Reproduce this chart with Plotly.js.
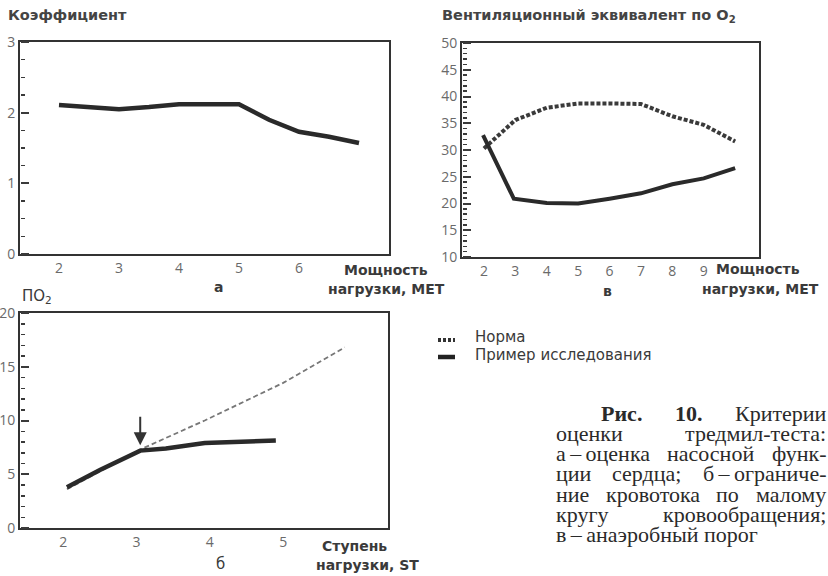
<!DOCTYPE html>
<html>
<head>
<meta charset="utf-8">
<script src="https://cdn.plot.ly/plotly-3.0.1.min.js"></script>
<style>html,body{margin:0;padding:0;background:#fff;}#chart{width:828px;height:576px;}</style>
</head>
<body>
<div id="chart"></div>
<script>
// Panel а — коэффициент
const aX = [2, 2.5, 3, 3.5, 4, 4.5, 5, 5.5, 6, 6.5, 7];
const aY = [2.11, 2.08, 2.05, 2.08, 2.12, 2.12, 2.12, 1.9, 1.73, 1.66, 1.57];
const aTicks = [2, 3, 4, 5, 6];

// Panel в — вентиляционный эквивалент по O2
const vX = [2, 3, 4, 5, 6, 7, 8, 9, 10];
const vNorm = [30.3, 35.6, 37.9, 38.7, 38.7, 38.6, 36.3, 34.7, 31.6];
const vStudyX = [1.97, 2.95, 4, 5, 6, 7, 8, 9, 10];
const vStudy = [32.8, 20.9, 20.1, 20.0, 20.9, 21.9, 23.6, 24.7, 26.6];
const vTicks = [2, 3, 4, 5, 6, 7, 8, 9];

// Panel б — ПО2
const bStudyX = [2.05, 2.5, 3.05, 3.4, 3.93, 4.3, 4.9];
const bStudy = [3.8, 5.4, 7.2, 7.4, 7.9, 8.0, 8.15];
const bNormX = [2.05, 3.05, 3.93, 5, 5.84];
const bNorm = [3.6, 7.3, 10.0, 13.5, 16.8];
const bTicks = [2, 3, 4, 5];
const bArrowX = 3.05, bArrowY = 7.7;

// Caption words (per printed line)
const captionLines = [
  ['Рис.', '10.', 'Критерии'],
  ['оценки', 'тредмил-теста:'],
  ['а\u2009–\u2009оценка', 'насосной', 'функ-'],
  ['ции', 'сердца;', 'б\u2009–\u2009ограниче-'],
  ['ние', 'кровотока', 'по', 'малому'],
  ['кругу', 'кровообращения;'],
  ['в\u2009–\u2009анаэробный', 'порог']
];

const W = 828, H = 576;
const px = x => x / W;
const py = y => 1 - y / H;

const dark = '#2a2a2a';
const sans = 'DejaVu Sans, sans-serif';

const traces = [
  {x: aX, y: aY, xaxis: 'x', yaxis: 'y', mode: 'lines', line: {color: dark, width: 4.5}},
  {x: vX, y: vNorm, xaxis: 'x2', yaxis: 'y2', mode: 'lines', line: {color: '#3a3a3a', width: 4, dash: '4px,2px'}},
  {x: vStudyX, y: vStudy, xaxis: 'x2', yaxis: 'y2', mode: 'lines', line: {color: dark, width: 4}},
  {x: bNormX, y: bNorm, xaxis: 'x3', yaxis: 'y3', mode: 'lines', line: {color: '#777', width: 1.8, dash: '5px,3px'}},
  {x: bStudyX, y: bStudy, xaxis: 'x3', yaxis: 'y3', mode: 'lines', line: {color: dark, width: 4.5}},
  // empty traces so the tick-only overlay axes exist
  {x: [], y: [], xaxis: 'x', yaxis: 'y4', mode: 'lines'},
  {x: [], y: [], xaxis: 'x', yaxis: 'y5', mode: 'lines'},
  {x: [], y: [], xaxis: 'x2', yaxis: 'y6', mode: 'lines'},
  {x: [], y: [], xaxis: 'x2', yaxis: 'y7', mode: 'lines'},
  {x: [], y: [], xaxis: 'x3', yaxis: 'y8', mode: 'lines'},
  {x: [], y: [], xaxis: 'x3', yaxis: 'y9', mode: 'lines'}
];

const box = {showline: true, mirror: true, linewidth: 2, linecolor: '#333', showgrid: false, zeroline: false,
  tickfont: {size: 14, color: '#6a6a6a'}};

const dA = [py(254), py(42)], dV = [py(257), py(43)], dB = [py(528), py(313)];
const leftA = px(20), leftV = px(462), leftB = px(20);

// tick-only axis: placed on the left edge, labelled side 'right' so its outside ticks point into the plot
const tickAxis = (over, dom, rng, dt, pos, len, wid) => ({overlaying: over, domain: dom, range: rng, dtick: dt, tick0: 0,
  anchor: 'free', position: pos, side: 'right', ticks: 'outside', ticklen: len, tickwidth: wid, tickcolor: '#3a3a3a',
  showticklabels: false, showline: false, showgrid: false, zeroline: false});

const layout = {
  width: W, height: H,
  margin: {l: 0, r: 0, t: 0, b: 0},
  showlegend: false,
  xaxis: Object.assign({}, box, {domain: [leftA, px(389)], range: [1.35, 7.5], tickvals: aTicks, anchor: 'y'}),
  yaxis: Object.assign({}, box, {domain: dA, range: [0, 3], dtick: 1, anchor: 'x'}),
  xaxis2: Object.assign({}, box, {domain: [leftV, px(759)], range: [1.3, 10.76], tickvals: vTicks, anchor: 'y2'}),
  yaxis2: Object.assign({}, box, {domain: dV, range: [10, 50], dtick: 5, anchor: 'x2'}),
  xaxis3: Object.assign({}, box, {domain: [leftB, px(388)], range: [1.41, 6.43], tickvals: bTicks, anchor: 'y3'}),
  yaxis3: Object.assign({}, box, {domain: dB, range: [0, 20], dtick: 5, anchor: 'x3'}),
  yaxis4: tickAxis('y', dA, [0, 3], 1, leftA, 8, 2),
  yaxis5: tickAxis('y', dA, [0, 3], 0.25, leftA, 4, 1.5),
  yaxis6: tickAxis('y2', dV, [10, 50], 5, leftV, 8, 2),
  yaxis7: tickAxis('y2', dV, [10, 50], 1, leftV, 4, 1.5),
  yaxis8: tickAxis('y3', dB, [0, 20], 5, leftB, 8, 2),
  yaxis9: tickAxis('y3', dB, [0, 20], 1, leftB, 4, 1.5),
  shapes: [
    {type: 'line', xref: 'paper', yref: 'paper', x0: px(438), x1: px(455), y0: py(340), y1: py(340), line: {color: '#333', width: 4, dash: '3px,2px'}},
    {type: 'line', xref: 'paper', yref: 'paper', x0: px(438), x1: px(455), y0: py(357), y1: py(357), line: {color: '#222', width: 4.5}}
  ],
  annotations: []
};

const A = layout.annotations;
function lab(text, x, y, opts) {
  A.push(Object.assign({text: text, xref: 'paper', yref: 'paper', x: px(x), y: py(y), showarrow: false,
    xanchor: 'left', yanchor: 'middle', borderpad: 0, font: {family: sans, size: 14, color: '#3a3a3a'}}, opts || {}));
}
const bold = (s) => '<b>' + s + '</b>';

// panel titles
lab(bold('Коэффициент'), 7, 15, {font: {family: sans, size: 14.5, color: '#444'}});
lab(bold('Вентиляционный эквивалент по O<sub>2</sub>'), 441, 16, {font: {family: sans, size: 14.5, color: '#444'}});
lab('ПО<sub>2</sub>', 21, 296, {font: {family: sans, size: 15, color: '#3a3a3a'}});

// axis titles
lab(bold('Мощность'), 386, 270, {xanchor: 'center'});
lab(bold('нагрузки, МЕТ'), 386, 289, {xanchor: 'center'});
lab(bold('Мощность'), 758, 269, {xanchor: 'center'});
lab(bold('нагрузки, МЕТ'), 760, 289, {xanchor: 'center'});
lab(bold('Ступень'), 354, 546, {xanchor: 'center'});
lab(bold('нагрузки, ST'), 367, 565, {xanchor: 'center'});

// sub-labels
lab(bold('а'), 218, 287, {xanchor: 'center'});
lab(bold('в'), 607, 291, {xanchor: 'center'});
lab('б', 220, 564, {xanchor: 'center', font: {family: sans, size: 15, color: '#3a3a3a'}});

// legend
lab('Норма', 474, 337, {font: {family: sans, size: 15, color: '#3a3a3a'}});
lab('Пример исследования', 474, 355, {font: {family: sans, size: 15, color: '#3a3a3a'}});

// arrow in panel б
A.push({xref: 'x3', yref: 'y3', x: bArrowX, y: bArrowY, ax: 0, ay: -30, showarrow: true, arrowhead: 2, arrowsize: 1.3,
  arrowwidth: 2, arrowcolor: '#333', text: ''});

// caption: justified text, word positions computed from measured widths
const serifFam = 'Liberation Serif';
const capSize = 22;
const ctx = document.createElement('canvas').getContext('2d');
const meas = (t, b) => { ctx.font = (b ? 'bold ' : '') + capSize + 'px "' + serifFam + '"'; return ctx.measureText(t).width; };
const capLeft = 555, capRight = 825, capIndent = 600, capTop = 413, capStep = 20.3;
captionLines.forEach((words, i) => {
  const y = capTop + i * capStep;
  const start = i === 0 ? capIndent : capLeft;
  const isBold = w => i === 0 && (w === 'Рис.' || w === '10.');
  const widths = words.map(w => meas(w, isBold(w)));
  const total = widths.reduce((s, v) => s + v, 0);
  const last = i === captionLines.length - 1;
  const gap = last ? meas(' ', false) : (capRight - start - total) / (words.length - 1);
  let x = start;
  words.forEach((w, k) => {
    lab(isBold(w) ? bold(w) : w, x, y, {font: {family: serifFam + ', Times New Roman, serif', size: capSize, color: '#2a2a2a'}});
    x += widths[k] + gap;
  });
});

Plotly.newPlot('chart', traces, layout, {staticPlot: true});
</script>
</body>
</html>
